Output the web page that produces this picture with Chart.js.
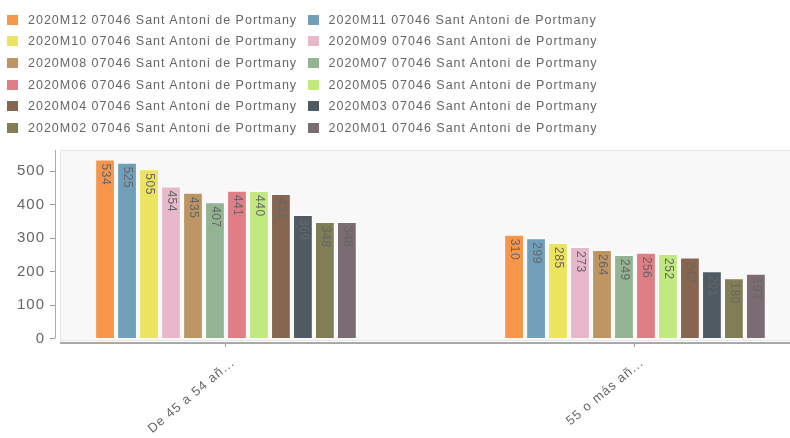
<!DOCTYPE html>
<html>
<head>
<meta charset="utf-8">
<title>Sant Antoni de Portmany</title>
<script src="https://cdn.jsdelivr.net/npm/chart.js@4.4.0/dist/chart.umd.min.js"></script>
<style>
  html, body { margin: 0; padding: 0; background: #fff; }
  #wrap { position: relative; width: 790px; height: 438px; overflow: hidden; }
  #chart { position: absolute; left: 0; top: 0; }
  #legend { position: absolute; left: 0; top: 0; width: 790px; height: 140px;
            font-family: "Liberation Sans", Arial, sans-serif; font-size: 12.5px;
            letter-spacing: 1px; color: #666; }
  .item { position: absolute; white-space: nowrap; height: 14px; line-height: 14px; }
  .item .box { position: absolute; left: 0; top: 2px; width: 11px; height: 10px; }
  .item .txt { position: absolute; left: 21px; top: 0; }
</style>
</head>
<body>
<div id="wrap">
  <canvas id="chart" width="790" height="438"></canvas>
  <div id="legend"></div>
</div>
<script>
// data
const categories = ['De 45 a 54 añ...', '55 o más añ...'];
const seriesLabels = [
  '2020M12 07046 Sant Antoni de Portmany', '2020M11 07046 Sant Antoni de Portmany',
  '2020M10 07046 Sant Antoni de Portmany', '2020M09 07046 Sant Antoni de Portmany',
  '2020M08 07046 Sant Antoni de Portmany', '2020M07 07046 Sant Antoni de Portmany',
  '2020M06 07046 Sant Antoni de Portmany', '2020M05 07046 Sant Antoni de Portmany',
  '2020M04 07046 Sant Antoni de Portmany', '2020M03 07046 Sant Antoni de Portmany',
  '2020M02 07046 Sant Antoni de Portmany', '2020M01 07046 Sant Antoni de Portmany'
];
const values45to54 = [534, 525, 505, 454, 435, 407, 441, 440, 431, 369, 348, 348];
const values55plus = [310, 299, 285, 273, 264, 249, 256, 252, 242, 201, 180, 193];
const seriesColors = ['#f7954a', '#719fba', '#ece35f', '#e6b8ca', '#bd9563', '#93b392',
                      '#e07e85', '#c2e880', '#866650', '#4f5a62', '#817d55', '#7b6b72'];
const yTicks = [0, 100, 200, 300, 400, 500];

const fontFamily = '"Liberation Sans", Arial, sans-serif';

// html legend, two columns
const legendEl = document.getElementById('legend');
seriesLabels.forEach(function (label, i) {
  const item = document.createElement('div');
  item.className = 'item';
  item.style.left = (7 + (i % 2) * 300.5) + 'px';
  item.style.top = (12.5 + Math.floor(i / 2) * 21.7) + 'px';
  item.innerHTML = '<span class="box" style="background:' + seriesColors[i] + '"></span>' +
                   '<span class="txt"></span>';
  item.querySelector('.txt').textContent = label;
  legendEl.appendChild(item);
});

const datasets = seriesLabels.map(function (label, i) {
  return {
    label: label,
    data: [{ x: 0, y: values45to54[i] }, { x: 1, y: values55plus[i] }],
    backgroundColor: seriesColors[i],
    borderColor: 'rgba(255,255,255,0.5)',
    borderWidth: 1,
    categoryPercentage: 0.645,
    barPercentage: 0.9
  };
});

// plot background, offset axis lines, value labels
const decor = {
  id: 'decor',
  beforeDraw: function (chart) {
    chart.ctx.letterSpacing = '1px';
  },
  beforeDatasetsDraw: function (chart) {
    const a = chart.chartArea, ctx = chart.ctx;
    ctx.save();
    ctx.fillStyle = '#f8f8f8';
    ctx.fillRect(a.left + 5, a.top, a.right - a.left, a.bottom - 3 - a.top);
    ctx.strokeStyle = '#e6e6e6';
    ctx.lineWidth = 1;
    ctx.strokeRect(a.left + 5.5, a.top + 0.5, a.right - a.left, a.bottom - 3 - a.top);
    ctx.restore();
  },
  afterDatasetsDraw: function (chart) {
    const ctx = chart.ctx;
    ctx.save();
    ctx.font = '12px ' + fontFamily;
    ctx.letterSpacing = '0.5px';
    ctx.fillStyle = '#666';
    ctx.textAlign = 'left';
    ctx.textBaseline = 'middle';
    chart.data.datasets.forEach(function (ds, i) {
      chart.getDatasetMeta(i).data.forEach(function (bar, j) {
        ctx.save();
        ctx.translate(bar.x, bar.y + 4);
        ctx.rotate(Math.PI / 2);
        ctx.fillText(String(ds.data[j].y), 0, 0);
        ctx.restore();
      });
    });
    ctx.restore();
  },
  afterDraw: function (chart) {
    const a = chart.chartArea, ctx = chart.ctx;
    const y0 = chart.scales.y.getPixelForValue(0);
    ctx.save();
    ctx.strokeStyle = '#aaa';
    ctx.lineWidth = 1;
    ctx.beginPath();
    ctx.moveTo(a.left + 0.5, a.top);
    ctx.lineTo(a.left + 0.5, y0);
    ctx.stroke();
    ctx.lineWidth = 2;
    ctx.strokeStyle = '#a8a8a8';
    ctx.beginPath();
    ctx.moveTo(a.left + 5, a.bottom);
    ctx.lineTo(a.right, a.bottom);
    ctx.stroke();
    ctx.restore();
  }
};

new Chart(document.getElementById('chart'), {
  type: 'bar',
  data: { datasets: datasets },
  plugins: [decor],
  options: {
    responsive: false,
    animation: false,
    devicePixelRatio: 1,
    layout: { padding: { top: 150, left: 0, right: 0, bottom: 0 } },
    plugins: { legend: { display: false }, tooltip: { enabled: false } },
    scales: {
      x: {
        type: 'linear',
        bounds: 'data',
        offset: false,
        min: -0.418,
        max: 1.379,
        afterBuildTicks: function (axis) {
          axis.ticks = categories.map(function (c, i) { return { value: i }; });
        },
        afterFit: function (s) { s.height = 95; s.paddingLeft = 0; s.paddingRight = 0; },
        border: { display: false },
        grid: { offset: false, drawOnChartArea: false, drawTicks: true, tickLength: 4, color: '#999' },
        ticks: {
          autoSkip: false,
          minRotation: 40,
          maxRotation: 40,
          labelOffset: 7,
          padding: 8,
          color: '#666',
          font: { family: fontFamily, size: 13 },
          callback: function (v) { return categories[v]; }
        }
      },
      y: {
        min: -13.4,
        max: 562.7,
        afterBuildTicks: function (axis) {
          axis.ticks = yTicks.map(function (v) { return { value: v }; });
        },
        afterFit: function (s) { s.width = 55; },
        border: { display: false },
        grid: { drawOnChartArea: false, drawTicks: true, tickLength: 5, color: '#999' },
        ticks: {
          padding: 5,
          color: '#666',
          font: { family: fontFamily, size: 15 }
        }
      }
    }
  }
});
</script>
</body>
</html>
